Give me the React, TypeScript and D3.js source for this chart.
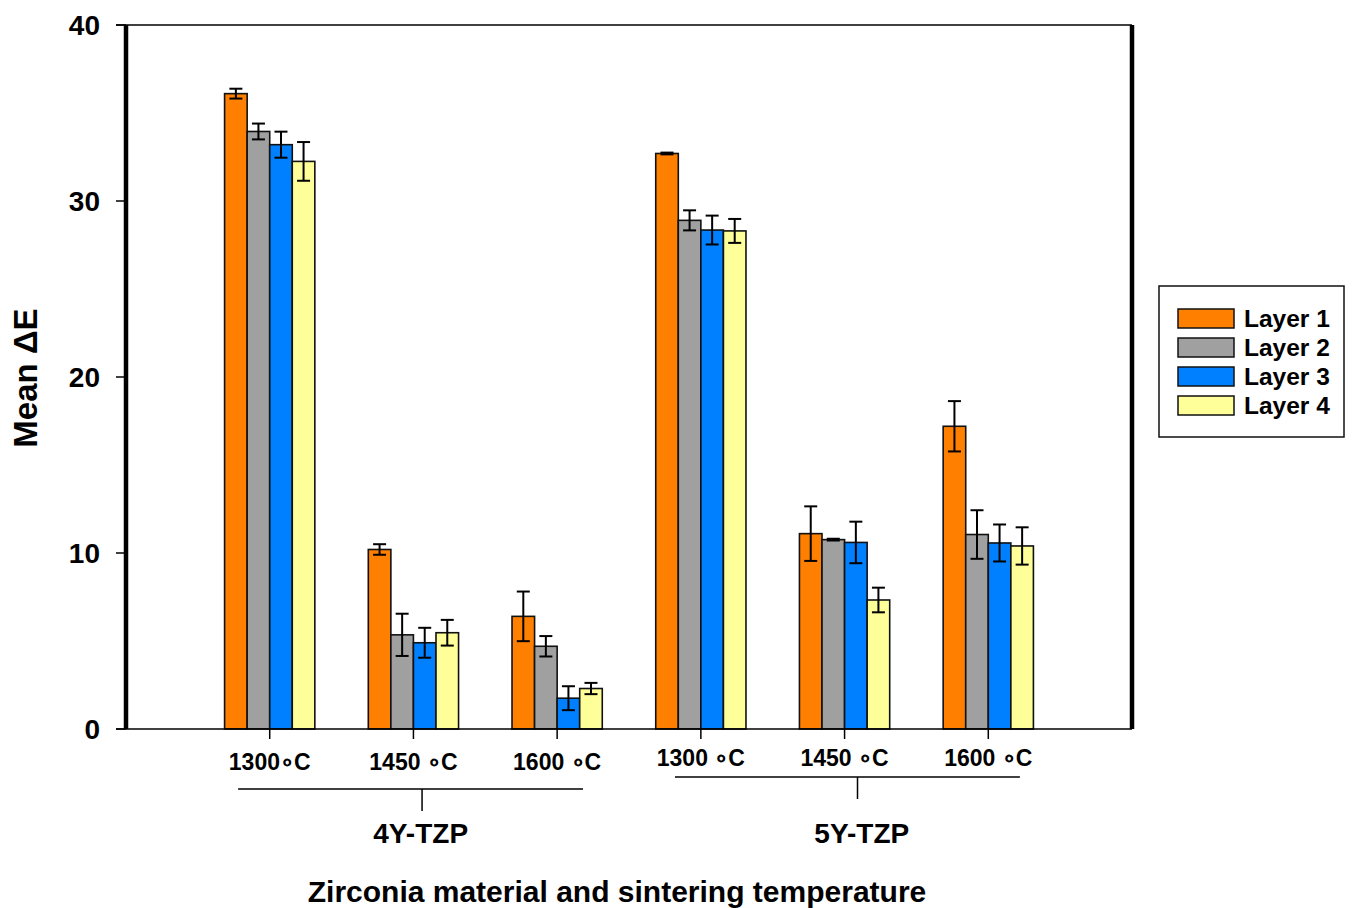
import React, { useEffect, useRef } from 'react';
import * as d3 from 'd3';

// groups along x: material + sintering temperature
const categories = ['1300∘C', '1450 ∘C', '1600 ∘C', '1300 ∘C', '1450 ∘C', '1600 ∘C'];
const materials = ['4Y-TZP', '5Y-TZP'];
const layers = ['Layer 1', 'Layer 2', 'Layer 3', 'Layer 4'];
const colors = ['#FF8000', '#A0A0A0', '#0080FF', '#FFFF99'];

// mean ΔE per layer, one array per layer, order = categories
const layer1 = [36.1, 10.2, 6.4, 32.7, 11.1, 17.2];
const layer2 = [33.95, 5.35, 4.7, 28.9, 10.76, 11.05];
const layer3 = [33.2, 4.9, 1.75, 28.35, 10.6, 10.57];
const layer4 = [32.25, 5.47, 2.3, 28.3, 7.33, 10.4];
const means = [layer1, layer2, layer3, layer4];

// standard deviations
const sd1 = [0.28, 0.3, 1.41, 0.05, 1.55, 1.43];
const sd2 = [0.45, 1.2, 0.58, 0.57, 0.05, 1.38];
const sd3 = [0.74, 0.85, 0.68, 0.82, 1.18, 1.05];
const sd4 = [1.1, 0.73, 0.32, 0.68, 0.7, 1.06];
const sds = [sd1, sd2, sd3, sd4];

const yTicks = [0, 10, 20, 30, 40];

const App = () => {
  const ref = useRef<SVGSVGElement>(null);

  useEffect(() => {
    const svg = d3.select(ref.current);
    svg.selectAll('*').remove();

    const left = 126, right = 1132, top = 25, bottom = 729;
    const font = 'Arial, "Liberation Sans", sans-serif';

    const x = d3.scaleLinear().domain([0, 7]).range([left, right]);
    const y = d3.scaleLinear().domain([0, 40]).range([bottom, top]);
    const step = x(1) - x(0);
    const barW = step * 0.157;

    // bars + error bars
    means.forEach((series, li) => {
      const g = svg.append('g');
      series.forEach((v, ci) => {
        const cx = x(ci + 1) + (li - 1.5) * barW;
        g.append('rect')
          .attr('x', cx - barW / 2)
          .attr('y', y(v))
          .attr('width', barW)
          .attr('height', y(0) - y(v))
          .attr('fill', colors[li])
          .attr('stroke', '#111')
          .attr('stroke-width', 1.6);
        const sd = sds[li][ci];
        const cap = 6.5;
        const e = svg.append('g').attr('stroke', '#000').attr('stroke-width', 2);
        e.append('line').attr('x1', cx).attr('x2', cx).attr('y1', y(v + sd)).attr('y2', y(v - sd));
        e.append('line').attr('x1', cx - cap).attr('x2', cx + cap).attr('y1', y(v + sd)).attr('y2', y(v + sd));
        e.append('line').attr('x1', cx - cap).attr('x2', cx + cap).attr('y1', y(v - sd)).attr('y2', y(v - sd));
      });
    });

    // frame
    svg.append('line').attr('x1', left - 10).attr('x2', right).attr('y1', top).attr('y2', top)
      .attr('stroke', '#000').attr('stroke-width', 1.5);
    svg.append('line').attr('x1', left - 10).attr('x2', right).attr('y1', bottom).attr('y2', bottom)
      .attr('stroke', '#000').attr('stroke-width', 1.5);
    svg.append('line').attr('x1', left).attr('x2', left).attr('y1', top).attr('y2', bottom)
      .attr('stroke', '#000').attr('stroke-width', 4.5);
    svg.append('line').attr('x1', right).attr('x2', right).attr('y1', top).attr('y2', bottom)
      .attr('stroke', '#000').attr('stroke-width', 4.5);

    // y ticks
    yTicks.forEach(t => {
      svg.append('line').attr('x1', left - 10).attr('x2', left).attr('y1', y(t)).attr('y2', y(t))
        .attr('stroke', '#000').attr('stroke-width', 1.5);
      svg.append('text').attr('x', 100).attr('y', y(t) + 10)
        .attr('text-anchor', 'end').attr('font-family', font).attr('font-weight', 'bold')
        .attr('font-size', 28).text(t);
    });

    svg.append('text')
      .attr('transform', `translate(37,378) rotate(-90)`)
      .attr('text-anchor', 'middle').attr('font-family', font).attr('font-weight', 'bold')
      .attr('font-size', 33).text('Mean ΔE');

    // x ticks + category labels
    categories.forEach((c, ci) => {
      const cx = x(ci + 1);
      svg.append('line').attr('x1', cx).attr('x2', cx).attr('y1', bottom).attr('y2', bottom + 10)
        .attr('stroke', '#000').attr('stroke-width', 1.5);
      svg.append('text').attr('x', cx).attr('y', ci < 3 ? 770 : 766)
        .attr('text-anchor', 'middle').attr('font-family', font).attr('font-weight', 'bold')
        .attr('font-size', 23).text(c);
    });

    // material brackets
    const brackets = [
      { x1: x(0.78), x2: x(3.18), yl: 789, cx: x(2.06), lx: x(2.05) },
      { x1: x(3.82), x2: x(6.22), yl: 777, cx: x(5.09), lx: x(5.12) },
    ];
    brackets.forEach((b, i) => {
      svg.append('line').attr('x1', b.x1).attr('x2', b.x2).attr('y1', b.yl).attr('y2', b.yl)
        .attr('stroke', '#000').attr('stroke-width', 1.5);
      svg.append('line').attr('x1', b.cx).attr('x2', b.cx).attr('y1', b.yl).attr('y2', b.yl + 22)
        .attr('stroke', '#000').attr('stroke-width', 1.5);
      svg.append('text').attr('x', b.lx).attr('y', 843)
        .attr('text-anchor', 'middle').attr('font-family', font).attr('font-weight', 'bold')
        .attr('font-size', 28).text(materials[i]);
    });

    svg.append('text').attr('x', 617).attr('y', 902)
      .attr('text-anchor', 'middle').attr('font-family', font).attr('font-weight', 'bold')
      .attr('font-size', 30).text('Zirconia material and sintering temperature');

    // legend
    const lg = svg.append('g');
    lg.append('rect').attr('x', 1159).attr('y', 286).attr('width', 185).attr('height', 151)
      .attr('fill', '#fff').attr('stroke', '#111').attr('stroke-width', 1.5);
    layers.forEach((l, i) => {
      const ry = 309 + i * 29;
      lg.append('rect').attr('x', 1178).attr('y', ry).attr('width', 56).attr('height', 19)
        .attr('fill', colors[i]).attr('stroke', '#111').attr('stroke-width', 1.5);
      lg.append('text').attr('x', 1244).attr('y', ry + 18)
        .attr('font-family', font).attr('font-weight', 'bold').attr('font-size', 24.5).text(l);
    });
  }, []);

  return (
    <svg ref={ref} width={1353} height={908}
      style={{ position: 'absolute', left: 0, top: 0, background: '#fff' }} />
  );
};

export default App;
